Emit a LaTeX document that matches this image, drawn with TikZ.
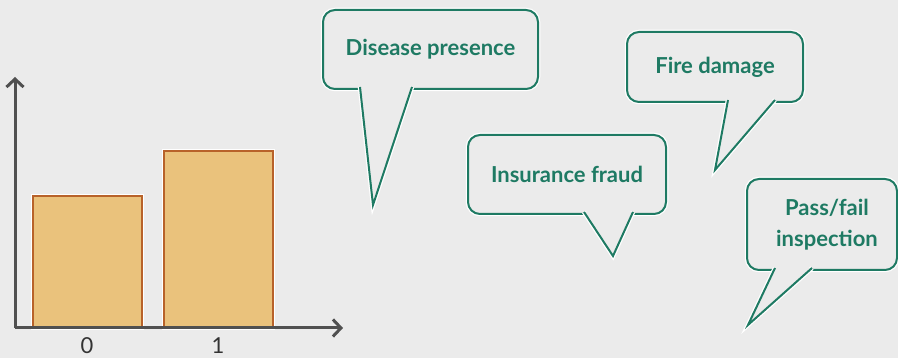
\documentclass[tikz,border=0pt]{standalone}
\usepackage{fontspec}
\setmainfont{Lato}
\usetikzlibrary{arrows.meta, positioning}
\definecolor{bgray}{HTML}{EBEBEB}
\definecolor{bubblegreen}{HTML}{1E7A63}
\definecolor{barfill}{HTML}{EAC27C}
\definecolor{baredge}{HTML}{B8622A}
\definecolor{axisgray}{HTML}{505050}

\begin{document}
\begin{tikzpicture}[x=1pt, y=1pt,
		bubble/.style={draw=bubblegreen, line width=2pt, rounded corners=12pt, fill=bgray,
			preaction={draw=white, line width=4.5pt},
			text=bubblegreen, font=\fontsize{22}{31}\selectfont\bfseries, align=center,
			inner sep=0pt},
		tail/.style={draw=bubblegreen, fill=bgray, line width=2pt, line join=miter,
			preaction={draw=white, line width=4.5pt}},
		bar/.style={draw=baredge, fill=barfill, line width=1.2pt,
			preaction={draw=white, line width=4pt}},
		axis/.style={draw=axisgray, line width=3pt, -{Straight Barb[length=8pt, width=17pt, line width=3pt]}},
		tick/.style={text=black!80, font=\fontsize{22}{22}\selectfont, anchor=base}]
		\useasboundingbox (0,0) rectangle (898,358);
		\fill[bgray] (0,0) rectangle (898,358);

		% Chart
		\fill[bar] (33,30) rectangle (142,162);
		\fill[bar] (164,30) rectangle (273,207);
		\draw[bar] (33,30) rectangle (142,162);
		\draw[bar] (164,30) rectangle (273,207);
		\coordinate (origin) at (15,30);
		\coordinate (ytop) at (15,281);
		\coordinate (xend) at (343,30);
		\draw[axis] (origin) -- (ytop);
		\draw[axis] (origin) -- (xend);
		\node[tick] (zero) at (87,4) {0};
		\node[tick] (one) at (218,4) {1};

		% Bubbles
		\node[bubble, minimum width=215pt, minimum height=79pt] (disease) at (430.5,308.5) {Disease presence};
		\node[bubble, minimum width=198pt, minimum height=79pt] (fraud) at (567,183.5) {Insurance fraud};
		\node[bubble, minimum width=176pt, minimum height=70pt] (fire) at (715,291) {Fire damage};
		\node[bubble, minimum width=150pt, minimum height=91pt] (pass) at (822,133.5) {\hspace*{10pt}Pass/fail\\\hspace*{10pt}inspection};

		% Tails
		\coordinate (disease-tip) at (373,153);
		\coordinate (fraud-tip) at (613,102);
		\coordinate (fire-tip) at (715,188);
		\coordinate (pass-tip) at (748,33);
		\path[tail] ([shift={(-70.5,3)}]disease.south) -- (disease-tip) -- ([shift={(-18.5,3)}]disease.south);
		\path[tail] ([shift={(17,3)}]fraud.south) -- (fraud-tip) -- ([shift={(66,3)}]fraud.south);
		\path[tail] ([shift={(13,3)}]fire.south) -- (fire-tip) -- ([shift={(60,3)}]fire.south);
		\path[tail] ([shift={(-47,3)}]pass.south) -- (pass-tip) -- ([shift={(-10,3)}]pass.south);
	\end{tikzpicture}
\end{document}
